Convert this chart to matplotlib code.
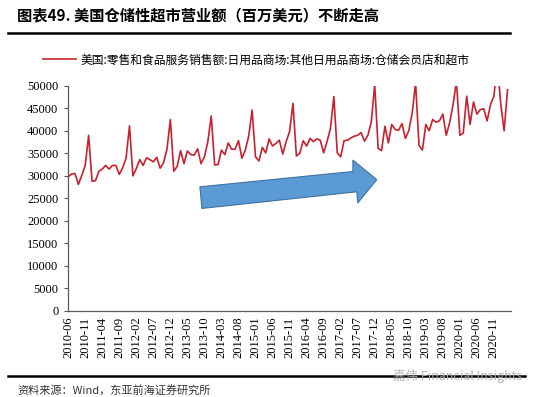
import numpy as np
import pandas as pd
import matplotlib
matplotlib.use("Agg")
from matplotlib import pyplot as plt
from matplotlib.patches import Polygon

plt.rcParams['font.family'] = ['Noto Sans CJK SC', 'DejaVu Sans']

# 月度数据 2010-06 ~ 2021-03（千 -> 百万美元）
months = pd.date_range('2010-06-01', '2021-03-01', freq='MS')
sales_k = [
    29.8, 30.4, 30.5, 28.1, 30.1, 32.3, 39.0,
    28.8, 28.9, 31.0, 31.5, 32.3, 31.5, 32.3, 32.3, 30.3, 31.8, 33.9, 41.1,
    30.0, 31.6, 33.6, 32.3, 34.0, 33.6, 33.1, 34.1, 31.7, 32.9, 35.9, 42.5,
    31.0, 32.1, 35.6, 32.7, 35.5, 34.7, 34.6, 36.0, 32.7, 34.2, 37.6, 43.3,
    32.4, 32.5, 35.7, 34.7, 37.3, 35.9, 35.9, 37.8, 33.9, 35.7, 38.8, 44.6,
    34.2, 33.3, 36.3, 35.1, 38.2, 36.6, 37.2, 37.9, 34.8, 37.6, 39.8, 46.1,
    34.4, 35.0, 37.8, 36.6, 38.3, 37.6, 38.2, 37.9, 35.1, 37.6, 40.5, 47.6,
    35.1, 34.2, 37.8, 37.9, 38.4, 38.8, 39.0, 39.6, 37.7, 39.0, 42.0, 50.3,
    36.1, 35.6, 41.0, 37.3, 41.4, 40.3, 40.1, 41.6, 38.3, 40.0, 43.9, 50.6,
    36.8, 35.7, 41.4, 40.0, 42.5, 41.9, 42.2, 43.7, 39.0, 41.8, 45.8, 51.0,
    39.0, 39.5, 47.7, 41.4, 46.4, 43.7, 44.7, 44.9, 42.2, 45.8, 47.7, 55.0,
    46.0, 40.0, 49.1,
]
sales = np.array(sales_k) * 1000
labels = [m.strftime('%Y-%m') for m in months]

series_name = '美国:零售和食品服务销售额:日用品商场:其他日用品商场:仓储会员店和超市'
title = '图表49. 美国仓储性超市营业额（百万美元）不断走高'
source = '资料来源：Wind，东亚前海证券研究所'

fig = plt.figure(figsize=(5.5, 3.97), dpi=100)
ax = fig.add_axes([0.124, 0.217, 0.805, 0.567])

x = np.arange(len(sales))
line, = ax.plot(x, sales, color='#C8202F', lw=1.2, label=series_name)

ax.set_xlim(0, 130)
ax.set_ylim(0, 50000)
ax.set_yticks(np.arange(0, 50001, 5000))
ax.set_xticks(x[::5])
ax.set_xticklabels(labels[::5], rotation=90, fontfamily='Liberation Serif', fontsize=9)
for t in ax.get_yticklabels():
    t.set_fontfamily('Liberation Serif')
    t.set_fontsize(9)
ax.tick_params(axis='x', length=0, pad=4)
ax.tick_params(axis='y', length=3, direction='out', color='#595959', pad=4)
for s in ['top', 'right']:
    ax.spines[s].set_visible(False)
for s in ['left', 'bottom']:
    ax.spines[s].set_color('#595959')
    ax.spines[s].set_linewidth(0.9)

# 蓝色箭头
arrow_pts = [(0.2975, 0.551), (0.643, 0.619), (0.643, 0.670), (0.697, 0.583),
             (0.654, 0.479), (0.652, 0.529), (0.302, 0.455)]
ax.add_patch(Polygon(arrow_pts, closed=True, transform=ax.transAxes,
                     facecolor='#5B9BD5', edgecolor='#41719C', lw=0.8, zorder=3))

fig.legend(handles=[line], loc='center', bbox_to_anchor=(0.466, 0.849),
           frameon=False, fontsize=8.5, handlelength=2.8, handletextpad=0.4)

fig.text(0.031, 0.962, title, fontsize=11, fontweight='bold', va='center', ha='left')
fig.add_artist(plt.Line2D([0.0145, 0.927], [0.917, 0.917], color='black', lw=1.8))
fig.add_artist(plt.Line2D([0.0145, 0.955], [0.053, 0.053], color='black', lw=1.8))
fig.text(0.95, 0.053, '嘉伟 Financial Insights', fontsize=9, color='#B0B0B0',
         ha='right', va='center', alpha=0.9)
fig.text(0.031, 0.017, source, fontsize=8, va='center', ha='left', color='#333333')

fig.savefig('out.png', dpi=100)
